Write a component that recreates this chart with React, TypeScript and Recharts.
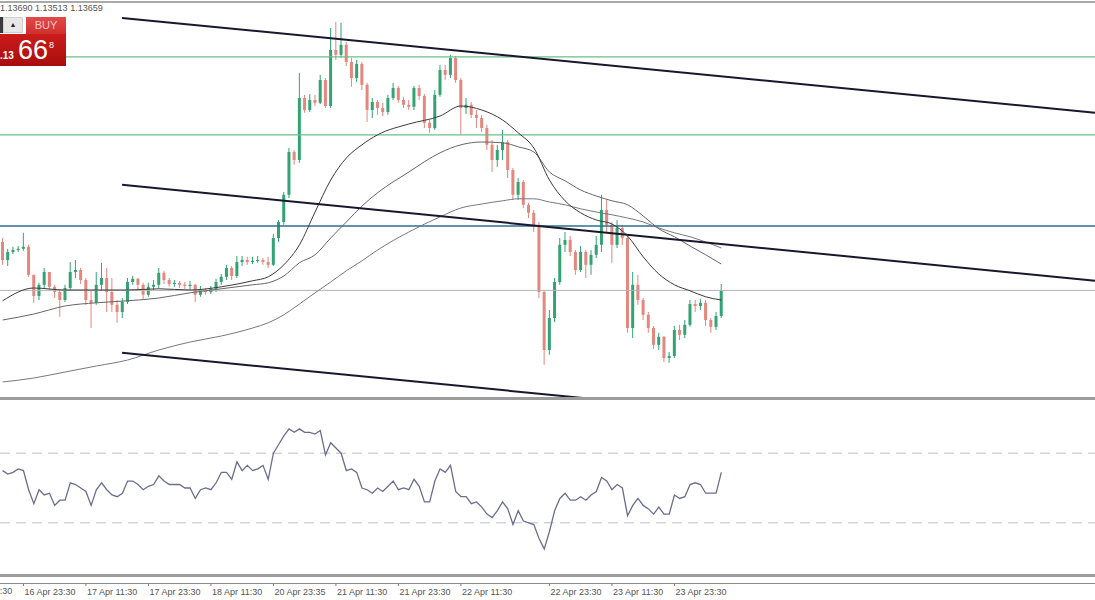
import React from 'react';
import { ComposedChart, Bar, Line, XAxis, YAxis, ReferenceLine } from 'recharts';

// ---------- DATA ----------
const FIRST_OPEN = 1.1378;

const closes = [
  1.13735, 1.13755, 1.1376, 1.13763, 1.13768, 1.13698, 1.13645, 1.13673, 1.13705, 1.13668,
  1.13655, 1.13635, 1.13665, 1.13705, 1.1371, 1.13685, 1.13635, 1.13628, 1.13673, 1.1369,
  1.13655, 1.13623, 1.13605, 1.1363, 1.1368, 1.13688, 1.13673, 1.13648, 1.13668, 1.13673,
  1.13703, 1.13685, 1.13675, 1.13678, 1.13673, 1.1367, 1.13673, 1.13648, 1.1366, 1.13655,
  1.13663, 1.1368, 1.13693, 1.13715, 1.13695, 1.1373, 1.13735, 1.1373, 1.13733, 1.13735,
  1.1373, 1.13723, 1.1379, 1.1383, 1.13898, 1.14005, 1.13985, 1.1414, 1.1411, 1.14135,
  1.14128, 1.14185, 1.1412, 1.1426, 1.14248, 1.14273, 1.1423, 1.1419, 1.14225, 1.14173,
  1.1411, 1.1413, 1.14115, 1.14105, 1.1414, 1.14165, 1.14135, 1.14123, 1.14118, 1.14165,
  1.14145, 1.14078, 1.14065, 1.14148, 1.1421, 1.14198, 1.1424, 1.14185, 1.14115, 1.14123,
  1.14098, 1.1409, 1.14065, 1.14023, 1.13985, 1.1401, 1.1403, 1.1396, 1.13898, 1.1393,
  1.13873, 1.13853, 1.13823, 1.13655, 1.1351, 1.1359, 1.1368, 1.13773, 1.13785, 1.13755,
  1.1371, 1.13755, 1.13723, 1.13748, 1.13773, 1.1386, 1.13823, 1.13773, 1.13815, 1.1379,
  1.13565, 1.13673, 1.13635, 1.13598, 1.13565, 1.13523, 1.13543, 1.1349, 1.13495, 1.1356,
  1.13548, 1.13573, 1.13625, 1.1362, 1.13628, 1.13585, 1.13568, 1.13595, 1.13659,
];

const highs = [
  1.1379, 1.13763, 1.13768, 1.1377, 1.13803, 1.13773, 1.13698, 1.13678, 1.13715, 1.13705,
  1.13673, 1.1366, 1.13673, 1.1373, 1.13735, 1.13715, 1.1369, 1.1366, 1.13705, 1.13728,
  1.13715, 1.1369, 1.13635, 1.1364, 1.1369, 1.13695, 1.1369, 1.13678, 1.13678, 1.13685,
  1.13715, 1.13708, 1.1369, 1.13685, 1.13683, 1.1368, 1.13683, 1.13675, 1.1367, 1.13665,
  1.1367, 1.13688, 1.137, 1.13723, 1.1372, 1.13745, 1.13745, 1.13743, 1.13743, 1.13745,
  1.1374, 1.13743, 1.138, 1.13835, 1.13905, 1.14015, 1.1401, 1.14203, 1.14148, 1.1415,
  1.14148, 1.14198, 1.1419, 1.14315, 1.1433, 1.14328, 1.1428, 1.1424, 1.14235, 1.1423,
  1.14178, 1.1414, 1.14135, 1.14128, 1.14148, 1.14178, 1.1417, 1.14143, 1.14135, 1.1417,
  1.14173, 1.1415, 1.14085, 1.1416, 1.14223, 1.14223, 1.14248, 1.14245, 1.1419, 1.1414,
  1.1413, 1.1411, 1.14098, 1.14073, 1.14035, 1.14023, 1.1406, 1.14035, 1.13965, 1.1394,
  1.13935, 1.13878, 1.1386, 1.1383, 1.1366, 1.1361, 1.1369, 1.1379, 1.13805, 1.13795,
  1.1376, 1.1377, 1.1376, 1.1376, 1.13795, 1.13898, 1.13885, 1.1383, 1.13835, 1.13823,
  1.13795, 1.13705, 1.13698, 1.1364, 1.13605, 1.1357, 1.13553, 1.13545, 1.13505, 1.1357,
  1.13573, 1.13585, 1.13635, 1.13635, 1.13638, 1.13635, 1.1359, 1.13605, 1.13675,
];

const lows = [
  1.13723, 1.1372, 1.1375, 1.13755, 1.13758, 1.13693, 1.13628, 1.13635, 1.13665, 1.1366,
  1.1364, 1.13593, 1.1363, 1.1366, 1.1369, 1.13675, 1.13623, 1.13565, 1.13623, 1.1366,
  1.13605, 1.13605, 1.13578, 1.1359, 1.13625, 1.13673, 1.1366, 1.13635, 1.13643, 1.1366,
  1.13665, 1.13675, 1.13668, 1.13668, 1.13665, 1.13663, 1.1366, 1.1363, 1.13643, 1.13648,
  1.1365, 1.13655, 1.13673, 1.13685, 1.13685, 1.1369, 1.1372, 1.13723, 1.13725, 1.13728,
  1.13723, 1.13715, 1.1372, 1.1378, 1.13823, 1.1389, 1.13973, 1.13978, 1.14103, 1.14105,
  1.1412, 1.14125, 1.14115, 1.14115, 1.14235, 1.1424, 1.1422, 1.14168, 1.1418, 1.1416,
  1.1408, 1.1409, 1.14098, 1.14095, 1.14098, 1.14135, 1.14128, 1.14115, 1.1411, 1.1411,
  1.14135, 1.14065, 1.14053, 1.1406, 1.14143, 1.14185, 1.1419, 1.14178, 1.14048, 1.141,
  1.1409, 1.14065, 1.14055, 1.1401, 1.13955, 1.13968, 1.13985, 1.1394, 1.13885, 1.13885,
  1.13865, 1.1384, 1.13805, 1.1364, 1.13473, 1.13498, 1.1358, 1.13673, 1.13755, 1.13745,
  1.13698, 1.13705, 1.1369, 1.13698, 1.1374, 1.13755, 1.13805, 1.13728, 1.13765, 1.13773,
  1.13553, 1.1354, 1.13623, 1.13585, 1.13553, 1.13513, 1.1351, 1.1348, 1.13478, 1.1349,
  1.13535, 1.1354, 1.13568, 1.13605, 1.1361, 1.1357, 1.13553, 1.1356, 1.1359,
];

const rsi14 = [
  60, 58, 59, 61, 60, 49, 41, 49, 46, 47,
  40, 43, 43, 53, 52, 50, 48, 40, 49, 53,
  49, 46, 45, 47, 54, 54, 52, 49, 51, 52,
  57, 54, 52, 52, 52, 50, 50, 44, 49, 50,
  49, 53, 59, 59, 55, 65, 60, 63, 60, 61,
  63, 55, 70, 75, 80, 84, 82, 84, 82, 82,
  81, 83, 69, 76, 73, 70, 60, 61, 59, 50,
  49, 47, 50, 48, 51, 54, 49, 50, 49, 55,
  51, 42, 42, 54, 61, 59, 63, 48, 45, 45,
  41, 42, 39, 35, 33, 37, 42, 38, 29, 37,
  31, 30, 29, 21, 15, 25, 37, 44, 47, 43,
  43, 45, 43, 46, 48, 56, 54, 49, 52, 50,
  34, 40, 44, 40, 38, 35, 39, 35, 35, 46,
  44, 45, 52, 53, 52, 47, 47, 47, 59,
];

// moving averages sampled on these candle indices
const maIndex = [0, 6, 12, 18, 24, 30, 36, 42, 48, 51, 54, 57, 60, 63, 66, 69, 72, 78, 84, 88, 92, 96, 99, 102, 105, 108, 111, 114, 117, 120, 123, 126, 129, 132, 135, 138];
const maFast = [1.13633, 1.13665, 1.1366, 1.1366, 1.1366, 1.13663, 1.1366, 1.13668, 1.13683, 1.13693, 1.13723, 1.13773, 1.13855, 1.13935, 1.1399, 1.14023, 1.14048, 1.14075, 1.14095, 1.1412, 1.1411, 1.14085, 1.14053, 1.14015, 1.13935, 1.13883, 1.13853, 1.13835, 1.13825, 1.13795, 1.13743, 1.137, 1.13673, 1.13658, 1.13643, 1.13635];
const maMid = [1.13585, 1.136, 1.1362, 1.13628, 1.13633, 1.1364, 1.13653, 1.13663, 1.13673, 1.13678, 1.13695, 1.13728, 1.13748, 1.1379, 1.1383, 1.1387, 1.13903, 1.13955, 1.14003, 1.14023, 1.1403, 1.14028, 1.14018, 1.14005, 1.13955, 1.13933, 1.1391, 1.13895, 1.13883, 1.13873, 1.13845, 1.13813, 1.13793, 1.1377, 1.13748, 1.13725];
const maSlow = [1.1343, 1.1344, 1.13455, 1.1347, 1.13485, 1.1351, 1.1353, 1.13545, 1.13565, 1.13578, 1.13598, 1.13625, 1.13653, 1.1368, 1.13708, 1.13733, 1.1376, 1.13805, 1.13843, 1.13865, 1.13875, 1.13883, 1.13888, 1.13888, 1.1388, 1.13873, 1.13863, 1.13855, 1.13848, 1.1384, 1.1383, 1.13815, 1.13803, 1.13793, 1.1378, 1.13765];

const tickIndex = [4, 16, 28, 40, 52, 64, 76, 88, 105, 117, 129];
const tickLabels = ['16 Apr 23:30', '17 Apr 11:30', '17 Apr 23:30', '18 Apr 11:30', '20 Apr 23:35', '21 Apr 11:30', '21 Apr 23:30', '22 Apr 11:30', '22 Apr 23:30', '23 Apr 11:30', '23 Apr 23:30'];
const leftCutLabel = { index: -8, label: '16 Apr 11:30' };

const greenLevels = [1.14243, 1.14048];
const blueLevel = 1.1382;
const bidLevel = 1.13659;
const rsiLevels = [70, 30];

const channelLines = [
  { x1: 22.93, y1: 1.1434, x2: 209.75, y2: 1.14103 },
  { x1: 22.93, y1: 1.13923, x2: 209.75, y2: 1.13683 },
  { x1: 22.93, y1: 1.13503, x2: 111.44, y2: 1.1339 },
];

const header = { high: '1.13690', low: '1.13513', close: '1.13659' };

// ---------- CONFIG ----------
const W = 1095;
const X_DOMAIN: [number, number] = [-0.5, 209.75];
const PRICE_DOMAIN: [number, number] = [1.1339, 1.1438];
const SLOT = W / (X_DOMAIN[1] - X_DOMAIN[0]);
const BULL = '#33a373';
const BEAR = '#e3877f';
const FONT = '"Liberation Sans", Arial, sans-serif';

const rows: any[] = closes.map((c, i) => ({
  i,
  open: i === 0 ? FIRST_OPEN : closes[i - 1],
  close: c,
  high: highs[i],
  low: lows[i],
  rsi: rsi14[i],
}));
maIndex.forEach((idx, k) => {
  rows[idx].maFast = maFast[k];
  rows[idx].maMid = maMid[k];
  rows[idx].maSlow = maSlow[k];
});

const Candle = (props: any) => {
  let { x, y, width, height, payload } = props;
  if (!payload || height == null) return null;
  if (height < 0) {
    y = y + height;
    height = -height;
  }
  const { open, close, high, low } = payload;
  const color = close >= open ? BULL : BEAR;
  const ratio = high - low > 0 ? height / (high - low) : 0;
  const yOpen = y + (high - open) * ratio;
  const yClose = y + (high - close) * ratio;
  const cx = x + width / 2;
  const top = Math.min(yOpen, yClose);
  const bh = Math.max(1, Math.abs(yOpen - yClose));
  return (
    <g>
      <line x1={cx} x2={cx} y1={y} y2={y + height} stroke={color} strokeWidth={1} />
      <rect x={x} y={top} width={width} height={bh} fill={color} />
    </g>
  );
};

const TimeTick = (props: any) => {
  const { x, y, payload } = props;
  const k = tickIndex.indexOf(payload.value);
  return (
    <g>
      <line x1={x} x2={x} y1={y + 8} y2={y + 11} stroke="#777" />
      <text x={x + 1} y={y + 19.5} fontSize={9} fill="#555" fontFamily={FONT} textAnchor="start">
        {k >= 0 ? tickLabels[k] : ''}
      </text>
    </g>
  );
};

export default function App() {
  return (
    <div style={{ position: 'relative', width: W, height: 600, overflow: 'hidden', background: '#fff', fontFamily: FONT }}>
      <style>{'body{margin:0;}'}</style>

      {/* main price panel */}
      <div style={{ position: 'absolute', left: 0, top: 0 }}>
        <ComposedChart width={W} height={400} data={rows} margin={{ top: 2, right: 0, bottom: 2, left: 0 }}>
          <XAxis type="number" dataKey="i" domain={X_DOMAIN} hide allowDataOverflow />
          <YAxis type="number" domain={PRICE_DOMAIN} hide allowDataOverflow />
          {greenLevels.map((v) => (
            <ReferenceLine key={v} y={v} stroke="#6cbf85" strokeWidth={1.2} />
          ))}
          <ReferenceLine y={blueLevel} stroke="#2f6f8d" strokeWidth={1.6} />
          <ReferenceLine y={bidLevel} stroke="#b4b4b4" strokeWidth={1} />
          <Bar dataKey={(d: any) => [d.low, d.high]} shape={<Candle />} barSize={3} isAnimationActive={false} />
          <Line type="monotone" dataKey="maSlow" stroke="#77778a" strokeWidth={1} dot={false} connectNulls isAnimationActive={false} />
          <Line type="monotone" dataKey="maMid" stroke="#666" strokeWidth={1} dot={false} connectNulls isAnimationActive={false} />
          <Line type="monotone" dataKey="maFast" stroke="#3a3a3a" strokeWidth={1} dot={false} connectNulls isAnimationActive={false} />
          {channelLines.map((c, k) => (
            <ReferenceLine
              key={k}
              segment={[{ x: c.x1, y: c.y1 }, { x: c.x2, y: c.y2 }]}
              stroke="#17172e"
              strokeWidth={2}
              ifOverflow="visible"
            />
          ))}
        </ComposedChart>
      </div>

      {/* oscillator panel */}
      <div style={{ position: 'absolute', left: 0, top: 398 }}>
        <ComposedChart width={W} height={200} data={rows} margin={{ top: 3, right: 0, bottom: 0, left: 0 }}>
          <XAxis
            type="number"
            dataKey="i"
            domain={X_DOMAIN}
            ticks={tickIndex}
            interval={0}
            tick={<TimeTick />}
            tickSize={0}
            tickMargin={0}
            axisLine={false}
            tickLine={false}
            height={23}
            allowDataOverflow
          />
          <YAxis type="number" domain={[0, 100]} hide />
          {rsiLevels.map((v) => (
            <ReferenceLine key={v} y={v} stroke="#bdbdd0" strokeWidth={1} strokeDasharray="10 6" />
          ))}
          <Line type="linear" dataKey="rsi" stroke="#6c6c8e" strokeWidth={1.3} dot={false} isAnimationActive={false} />
        </ComposedChart>
      </div>

      {/* partially visible first time label */}
      <div
        style={{
          position: 'absolute',
          left: (leftCutLabel.index + 0.5) * SLOT + 1,
          top: 586,
          fontSize: 9,
          color: '#555',
          whiteSpace: 'nowrap',
          lineHeight: '11px',
        }}
      >
        {leftCutLabel.label}
      </div>

      {/* frame / separators */}
      <div style={{ position: 'absolute', left: 0, top: 1, width: W, height: 2, background: '#a9a9a9' }} />
      <div style={{ position: 'absolute', left: 0, top: 397, width: W, height: 3, background: '#9c9c9c' }} />
      <div style={{ position: 'absolute', left: 0, top: 574, width: W, height: 3, background: '#9c9c9c' }} />
      <div style={{ position: 'absolute', left: 0, top: 583, width: W, height: 1, background: '#8a8a8a' }} />

      {/* header OHLC text */}
      <div style={{ position: 'absolute', left: 0, top: 3, fontSize: 9, color: '#555', whiteSpace: 'nowrap', lineHeight: '11px' }}>
        {header.high} {header.low} {header.close}
      </div>

      {/* one-click trading widget */}
      <div style={{ position: 'absolute', left: 0, top: 17, width: 3, height: 16, background: '#3a3a3a' }} />
      <div
        style={{
          position: 'absolute',
          left: 3,
          top: 17,
          width: 20,
          height: 16,
          background: '#e8e8e8',
          border: '1px solid #cfcfcf',
          boxSizing: 'border-box',
          fontSize: 7,
          lineHeight: '14px',
          textAlign: 'center',
          color: '#222',
        }}
      >
        ▲
      </div>
      <div
        style={{
          position: 'absolute',
          left: 26,
          top: 17,
          width: 40,
          height: 17,
          background: 'linear-gradient(#e24a4a, #cf2f2f)',
          color: '#f7c4c4',
          fontSize: 11,
          lineHeight: '17px',
          textAlign: 'center',
        }}
      >
        BUY
      </div>
      <div
        style={{
          position: 'absolute',
          left: 0,
          top: 34,
          width: 66,
          height: 32,
          background: 'linear-gradient(#cc1c1c, #a90d0d)',
          color: '#fff',
        }}
      >
        <span style={{ position: 'absolute', left: 0, top: 16, fontSize: 10, fontWeight: 'bold', lineHeight: '12px' }}>.13</span>
        <span style={{ position: 'absolute', left: 18, top: 1, fontSize: 27, lineHeight: '30px' }}>66</span>
        <span style={{ position: 'absolute', left: 49, top: 6, fontSize: 9, lineHeight: '10px' }}>8</span>
      </div>
    </div>
  );
}
